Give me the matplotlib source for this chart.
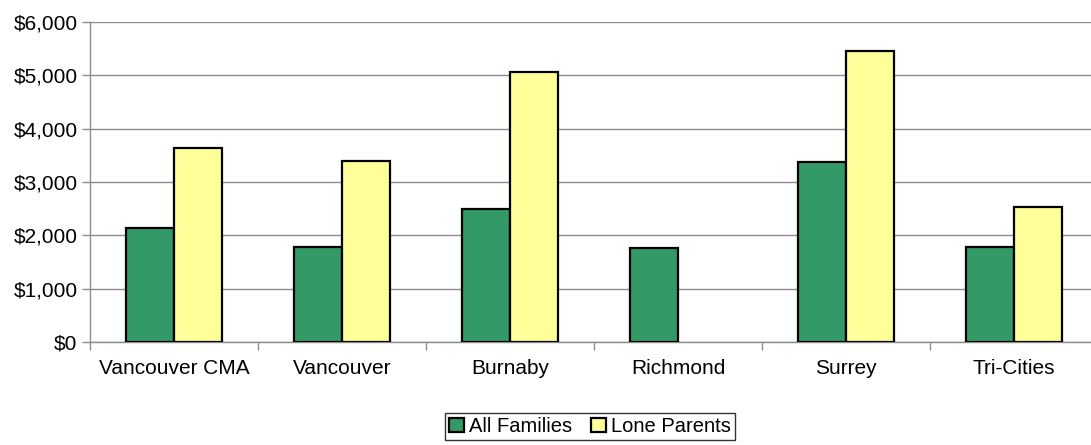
import numpy as np
import matplotlib.pyplot as plt
from matplotlib.ticker import FuncFormatter

plt.rcParams["font.family"] = ["Liberation Sans", "DejaVu Sans"]

# Data
regions = ["Vancouver CMA", "Vancouver", "Burnaby", "Richmond", "Surrey", "Tri-Cities"]
all_families = [2130, 1775, 2490, 1770, 3370, 1780]
lone_parents = [3630, 3390, 5055, np.nan, 5460, 2525]

green = "#339966"
yellow = "#FFFF99"
grid_grey = "#8C8C8C"

fig = plt.figure(figsize=(10.91, 4.45), dpi=100)
ax = fig.add_axes([90 / 1091, 1 - 342 / 445, 1008 / 1091, 320 / 445])

x = np.arange(len(regions))
width = 0.8 / 2.8  # Excel-style gap width 150%

ax.bar(x - width / 2, all_families, width, color=green, edgecolor="black",
       linewidth=1.6, label="All Families", zorder=3)
ax.bar(x + width / 2, lone_parents, width, color=yellow, edgecolor="black",
       linewidth=1.6, label="Lone Parents", zorder=3)

ax.set_xlim(-0.5, len(regions) - 0.5)
ax.set_ylim(0, 6000)
ax.set_yticks(np.arange(0, 6001, 1000))
ax.yaxis.set_major_formatter(FuncFormatter(lambda v, _: f"${v:,.0f}"))

# category labels centred, ticks on the boundaries
ax.set_xticks(x)
ax.set_xticklabels(regions)
ax.tick_params(axis="x", length=0, labelsize=15, pad=12)
ax.set_xticks(np.arange(-0.5, len(regions), 1), minor=True)
ax.tick_params(axis="x", which="minor", length=6, color=grid_grey, width=1)
ax.tick_params(axis="y", length=6, color=grid_grey, width=1, labelsize=15, pad=3)

ax.grid(axis="y", color=grid_grey, linewidth=1, zorder=0)
for side in ["top", "right"]:
    ax.spines[side].set_visible(False)
for side in ["left", "bottom"]:
    ax.spines[side].set_color(grid_grey)
    ax.spines[side].set_linewidth(1)

# legend centred under the visible part of the plot area
leg = fig.legend(loc="upper center", bbox_to_anchor=(590 / 1091, 1 - 413 / 445),
                 ncol=2, frameon=True, fancybox=False, fontsize=14.5,
                 handlelength=0.75, handleheight=0.75, handletextpad=0.25,
                 columnspacing=0.9, borderpad=0.2, borderaxespad=0)
leg.get_frame().set_edgecolor("black")
leg.get_frame().set_linewidth(1)

fig.savefig("out.png", dpi=100)
